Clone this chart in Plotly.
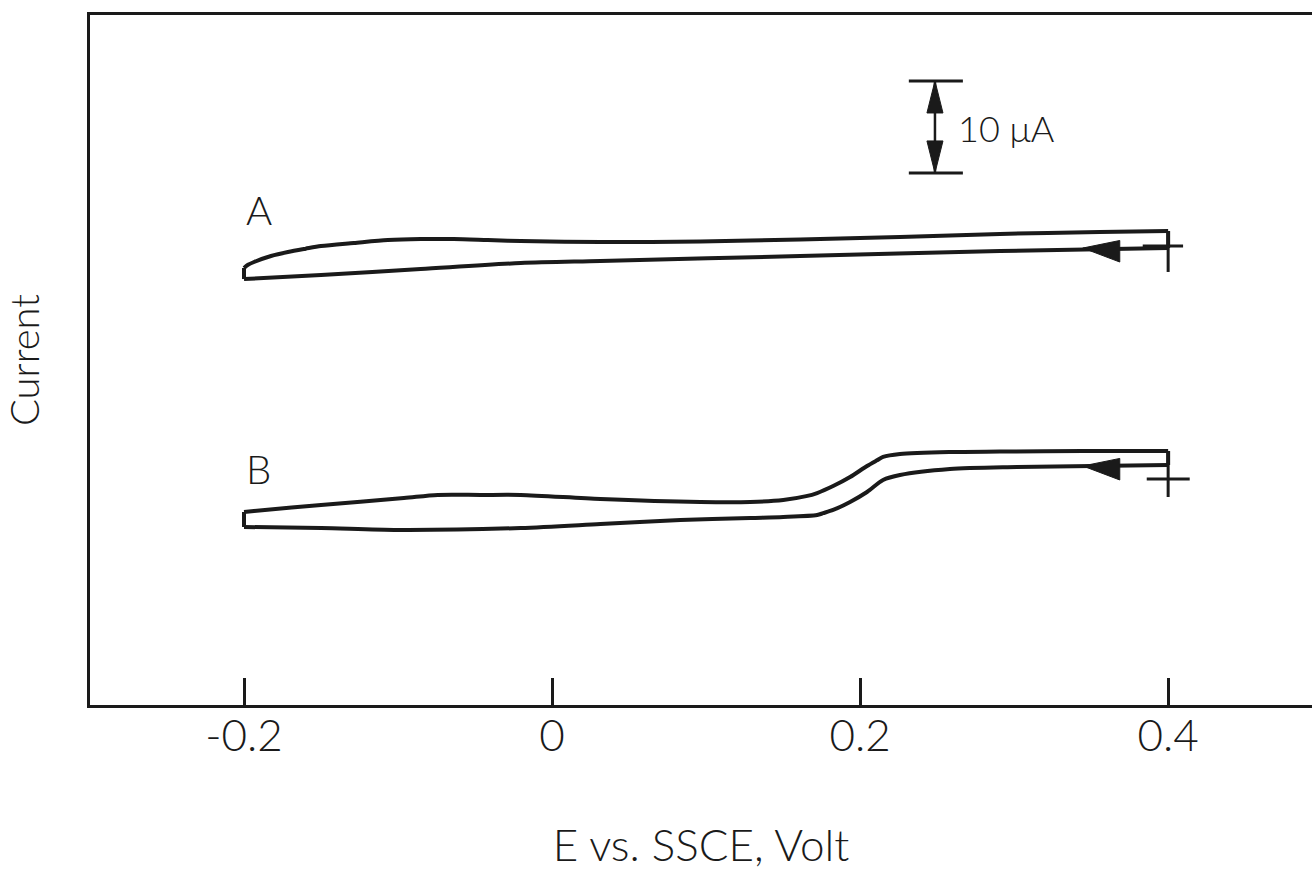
import plotly.graph_objects as go

# Potential (V vs. SSCE) and current (µA, arbitrary offset)
# forward (upper) branches, from -0.2 V to 0.4 V
a_fwd_v = [-0.2, -0.1974, -0.1935, -0.1825, -0.1715, -0.160, -0.150, -0.1287, -0.1066, -0.0853,
           -0.0639, -0.0418, -0.0204, 0.0314, 0.0963, 0.1611, 0.2259, 0.2908, 0.3556, 0.40]
a_fwd_i = [47.50, 47.85, 48.15, 48.80, 49.24, 49.60, 49.89, 50.22, 50.54, 50.65,
           50.65, 50.54, 50.43, 50.33, 50.38, 50.60, 50.87, 51.20, 51.41, 51.52]
# reverse (lower) branches, from 0.4 V back to -0.2 V
a_rev_v = [0.40, 0.2908, 0.1611, 0.0314, -0.0204, -0.0853, -0.150, -0.2]
a_rev_i = [49.67, 49.35, 48.80, 48.26, 48.04, 47.39, 46.74, 46.30]

b_fwd_v = [-0.2, -0.1935, -0.150, -0.0962, -0.0742, -0.0464, -0.0204, 0.0314, 0.0963,
           0.1287, 0.1501, 0.1650, 0.1721, 0.1825, 0.1935, 0.2045, 0.2110, 0.2149, 0.2259,
           0.2583, 0.2908, 0.3446, 0.40]
b_fwd_i = [20.98, 21.09, 21.74, 22.50, 22.83, 22.83, 22.83, 22.39, 22.07,
           22.07, 22.28, 22.70, 23.04, 23.80, 24.78, 25.98, 26.60, 26.96, 27.28,
           27.50, 27.55, 27.61, 27.61]
b_rev_v = [0.40, 0.3018, 0.2583, 0.2259, 0.2149, 0.2045, 0.1935, 0.1825, 0.1760, 0.1721,
           0.1501, 0.1287, 0.0833, 0.0314, -0.0204, -0.1002, -0.150, -0.2]
b_rev_i = [26.09, 25.87, 25.65, 25.00, 24.46, 23.15, 22.07, 21.20, 20.85, 20.65,
           20.43, 20.33, 20.11, 19.67, 19.24, 19.02, 19.24, 19.35]

tick_vals = [-0.2, 0, 0.2, 0.4]
tick_text = ["-0.2", "0", "0.2", "0.4"]

# scan-start marks ("+") and scan-direction arrowheads
start_v = 0.40
cross_a = dict(i=49.89, i_lo=47.07, v_lo=0.3835, v_hi=0.4097)
cross_b = dict(i=24.57, i_lo=22.61, v_lo=0.3861, v_hi=0.4140)
arrow_a = dict(tip_v=0.3446, base_v=0.3686, i=49.67, half=0.82)
arrow_b = dict(tip_v=0.3446, base_v=0.3686, i=25.98, half=0.82)

# 10 µA scale bar
bar_v, bar_lo, bar_hi, bar_half = 0.2486, 57.83, 67.83, 0.0117
bar_head_len, bar_head_half = 3.48, 0.0052

FONT = "Lato"
INK = "#1a1a1a"

fig = go.Figure()
for v1, i1, v2, i2, name in [(a_fwd_v, a_fwd_i, a_rev_v, a_rev_i, "A"),
                             (b_fwd_v, b_fwd_i, b_rev_v, b_rev_i, "B")]:
    # the two scan branches, smooth
    for vv, ii in [(v1, i1), (v2, i2)]:
        fig.add_trace(go.Scatter(x=vv, y=ii, mode="lines", name=name,
                                 line=dict(color=INK, width=4, shape="spline", smoothing=0.8),
                                 showlegend=False, hoverinfo="skip"))
    # vertical switching edges at the ends of the scan
    fig.add_trace(go.Scatter(x=[v2[-1], v1[0]], y=[i2[-1], i1[0]], mode="lines",
                             line=dict(color=INK, width=4), showlegend=False, hoverinfo="skip"))
    fig.add_trace(go.Scatter(x=[v1[-1], v2[0]], y=[i1[-1], i2[0]], mode="lines",
                             line=dict(color=INK, width=4), showlegend=False, hoverinfo="skip"))

shapes = []
line_style = dict(color=INK, width=3)
for c, top in [(cross_a, a_fwd_i[-1]), (cross_b, b_fwd_i[-1])]:
    shapes.append(dict(type="line", xref="x", yref="y", x0=start_v, x1=start_v,
                       y0=top, y1=c["i_lo"], line=line_style))
    shapes.append(dict(type="line", xref="x", yref="y", x0=c["v_lo"], x1=c["v_hi"],
                       y0=c["i"], y1=c["i"], line=line_style))
for a in [arrow_a, arrow_b]:
    shapes.append(dict(type="path", xref="x", yref="y",
                       path=f"M {a['tip_v']} {a['i']} L {a['base_v']} {a['i'] + a['half']} "
                            f"L {a['base_v']} {a['i'] - a['half'] - 0.7} Z",
                       fillcolor=INK, line=dict(color=INK, width=1)))
# scale bar
shapes.append(dict(type="line", xref="x", yref="y", x0=bar_v, x1=bar_v, y0=bar_lo, y1=bar_hi,
                   line=dict(color=INK, width=2.5)))
for yb in (bar_lo, bar_hi):
    shapes.append(dict(type="line", xref="x", yref="y", x0=bar_v - bar_half * 1.45,
                       x1=bar_v + bar_half * 1.55, y0=yb, y1=yb, line=dict(color=INK, width=3)))
shapes.append(dict(type="path", xref="x", yref="y",
                   path=f"M {bar_v} {bar_hi} L {bar_v - bar_head_half} {bar_hi - bar_head_len} "
                        f"L {bar_v + bar_head_half} {bar_hi - bar_head_len} Z",
                   fillcolor=INK, line=dict(color=INK, width=1)))
shapes.append(dict(type="path", xref="x", yref="y",
                   path=f"M {bar_v} {bar_lo} L {bar_v - bar_head_half} {bar_lo + bar_head_len} "
                        f"L {bar_v + bar_head_half} {bar_lo + bar_head_len} Z",
                   fillcolor=INK, line=dict(color=INK, width=1)))

annotations = [
    dict(x=-0.2, y=53.8, xref="x", yref="y", text="A", showarrow=False, xanchor="left",
         font=dict(family=FONT, size=40, color=INK, weight=300)),
    dict(x=-0.2, y=25.7, xref="x", yref="y", text="B", showarrow=False, xanchor="left",
         font=dict(family=FONT, size=40, color=INK, weight=300)),
    dict(x=0.2622, y=62.72, xref="x", yref="y", text="10 μA", showarrow=False, xanchor="left",
         font=dict(family=FONT, size=36, color=INK, weight=300)),
]

fig.update_layout(
    width=1312, height=876,
    margin=dict(l=90, r=0, t=15, b=171),
    paper_bgcolor="white", plot_bgcolor="white",
    shapes=shapes, annotations=annotations,
    xaxis=dict(range=[-0.3, 0.4934], tickvals=tick_vals, ticktext=tick_text,
               ticks="inside", ticklen=27, tickwidth=3, tickcolor=INK,
               ticklabelstandoff=-10,
               showline=True, linewidth=3, linecolor=INK, mirror=True,
               showgrid=False, zeroline=False,
               tickfont=dict(family=FONT, size=44, color=INK, weight=300),
               title=dict(text="E vs. SSCE, Volt", standoff=72,
                          font=dict(family=FONT, size=44, color=INK, weight=300))),
    yaxis=dict(range=[0, 75], showticklabels=False, ticks="",
               showline=True, linewidth=3, linecolor=INK, mirror=False,
               showgrid=False, zeroline=False,
               title=dict(text="Current", standoff=40,
                          font=dict(family=FONT, size=40, color=INK, weight=300))),
)

fig.write_html("out.html")
